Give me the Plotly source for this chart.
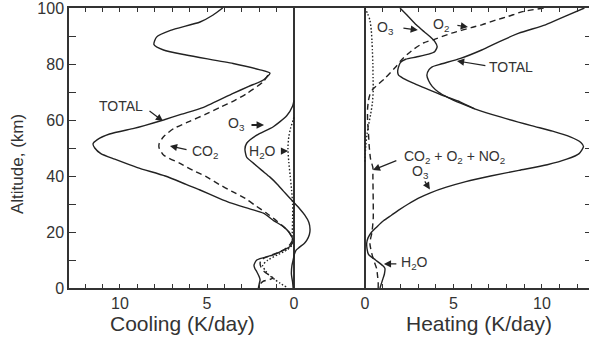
import plotly.graph_objects as go

# ---------------- data (altitude km, rate K/day) ----------------
alt_cool_total = [100, 97.5, 95, 92, 89.6, 87, 85, 83.2, 80.2, 78, 76.7, 74.3, 72, 69.5, 64.5, 62, 60, 58, 57, 55, 53, 51.5, 50, 48, 46, 43, 40, 37, 35, 32, 30.5, 28, 26.7, 24, 22, 20, 18.3, 17, 16, 14.8, 13.5, 11.8, 10, 8.2, 7, 5.8, 4, 2.9, 1.5, 0]
cool_total = [4.1, 4.65, 5.4, 7.1, 7.9, 8.05, 7.5, 6.2, 3.5, 2.0, 1.38, 1.76, 2.6, 3.5, 5.2, 6.5, 7.5, 8.6, 9.2, 10.6, 11.3, 11.55, 11.45, 11.1, 10.3, 9.0, 7.4, 6.2, 5.4, 4.3, 3.7, 2.4, 1.76, 1.15, 0.63, 0.3, 0.13, 0.05, 0.1, 0.23, 0.6, 1.19, 2.14, 2.3, 2.25, 2.14, 2.0, 1.95, 2.0, 2.05]

alt_cool_co2 = [76, 73.7, 69.5, 67, 64.5, 62, 59.5, 57, 54, 51.5, 50, 47.5, 44.5, 42, 39.6, 37, 34.6, 32, 29.8, 26.7, 24.5, 22.5, 20.5, 19, 17, 15, 14, 13, 12, 11, 10, 8.8, 7.5, 5.8, 4.5, 3.5, 2.3, 1, 0]
cool_co2 = [1.5, 1.76, 2.7, 3.4, 4.25, 5.1, 6.0, 6.9, 7.5, 7.75, 7.75, 7.5, 6.55, 5.8, 5.0, 4.3, 3.6, 2.8, 2.3, 1.57, 1.1, 0.71, 0.35, 0.2, 0.1, 0.3, 0.5, 0.8, 1.2, 1.6, 1.9, 1.95, 1.9, 1.7, 1.4, 1.2, 1.8, 2.0, 2.0]

alt_cool_h2o = [61, 60, 57, 54, 50, 45, 40, 35, 30, 25, 20, 17, 15, 13.6, 12, 10, 8, 5, 3, 1.7, 0.3]
cool_h2o = [0.0, 0.05, 0.2, 0.3, 0.35, 0.3, 0.22, 0.14, 0.08, 0.08, 0.1, 0.1, 0.15, 0.4, 0.9, 1.5, 1.8, 1.5, 1.1, 0.8, 0.42]

alt_cool_o3 = [67, 65, 61.5, 57.6, 54.6, 51.7, 49.6, 46.7, 44.6, 42, 39.6, 37, 34.6, 32.5, 30.7, 28.5, 26, 23.5, 21, 19, 17, 16, 14.5, 13.5, 12, 10, 8, 5, 2, 0]
cool_o3 = [0.0, 0.08, 0.42, 1.19, 2.14, 2.72, 2.82, 2.72, 2.34, 1.85, 1.38, 0.95, 0.61, 0.3, 0.03, -0.3, -0.62, -0.85, -0.92, -0.88, -0.73, -0.6, -0.3, -0.12, -0.02, 0.05, 0.12, 0.15, 0.08, 0.05]

alt_heat_total = [100, 97, 94, 91, 88, 85, 82, 80, 79, 78, 76, 74, 72, 70, 68, 66, 64, 61, 58, 56, 54, 52, 50.5, 48, 46, 44, 42, 40, 38, 36, 34, 32, 30, 28, 26, 24, 22, 20, 18, 16, 14, 12, 10, 8, 7, 5, 3, 1, 0]
heat_total = [12.4, 11.3, 10.2, 8.7, 7.6, 6.6, 5.4, 4.3, 3.8, 3.62, 3.5, 3.6, 3.8, 4.15, 4.7, 5.4, 6.2, 7.7, 9.4, 10.6, 11.6, 12.2, 12.35, 12.1, 11.4, 10.3, 8.7, 7.1, 5.7, 4.6, 3.7, 3.0, 2.45, 1.95, 1.5, 1.05, 0.7, 0.38, 0.18, 0.1, 0.12, 0.2, 0.6, 1.0, 1.13, 1.1, 1.0, 0.9, 0.85]

alt_heat_o3 = [100, 97, 94, 91.5, 89.8, 88, 86.2, 84.5, 83.5, 82.5, 81.7, 80.5, 78.5, 77.2, 76, 74.9, 73, 70.7, 68.5, 66.5, 64]
heat_o3 = [1.98, 2.45, 2.9, 3.35, 3.67, 3.95, 4.08, 3.95, 3.6, 2.9, 2.3, 2.0, 1.88, 1.85, 1.9, 2.16, 2.8, 3.67, 4.5, 5.37, 6.2]

alt_heat_o2 = [100, 98.7, 97, 95.7, 94, 93, 91, 89, 87.5, 85.5, 83.5, 81, 79, 77, 75, 73, 71, 69, 67, 64, 60, 55, 50, 46, 43, 40, 35, 30, 25, 20, 16, 12, 9, 7, 4, 2, 0]
heat_o2 = [10.1, 8.9, 8.1, 7.4, 6.6, 6.0, 4.9, 4.0, 3.3, 2.8, 2.4, 2.0, 1.75, 1.45, 1.15, 0.8, 0.45, 0.28, 0.2, 0.15, 0.15, 0.2, 0.25, 0.32, 0.45, 0.45, 0.46, 0.47, 0.47, 0.4, 0.28, 0.4, 0.55, 0.66, 0.72, 0.75, 0.75]

alt_heat_h2o = [100, 98, 95.7, 92, 88, 85, 80, 75, 70.7, 66, 62, 58, 55, 51, 48, 45]
heat_h2o = [0.0, 0.15, 0.28, 0.36, 0.4, 0.42, 0.45, 0.46, 0.47, 0.42, 0.32, 0.2, 0.12, 0.05, 0.02, 0.0]

cool_ticks = list(range(0, 13))
heat_ticks = list(range(0, 13))
cool_ticktext = [str(v) if v % 5 == 0 else "" for v in cool_ticks]
heat_ticktext = [str(v) if v % 5 == 0 else "" for v in heat_ticks]
alt_ticks = list(range(0, 101, 10))
alt_ticktext = [str(v) if v % 20 == 0 else "" for v in alt_ticks]

COOL_RANGE = [12.93, -2.01]
HEAT_RANGE = [-2.03, 12.66]

# ---------------- figure ----------------
INK = "#222222"
TXT = "#333333"
AX = "#333333"
FONT = "Liberation Sans, Arial, sans-serif"
W = 1.4

fig = go.Figure()

def add(x, y, dash, xa):
    fig.add_trace(go.Scatter(
        x=x, y=y, mode="lines", xaxis=xa, yaxis="y",
        line=dict(color=INK, width=W, dash=dash, shape="spline", smoothing=0.6),
        showlegend=False, hoverinfo="skip"))

add(cool_total, alt_cool_total, "solid", "x")
add(cool_co2, alt_cool_co2, "6px,4px", "x")
add(cool_h2o, alt_cool_h2o, "1.5px,2px", "x")
add(cool_o3, alt_cool_o3, "solid", "x")
add(heat_total, alt_heat_total, "solid", "x2")
add(heat_o3, alt_heat_o3, "solid", "x2")
add(heat_o2, alt_heat_o2, "6px,4px", "x2")
add(heat_h2o, alt_heat_h2o, "1.5px,2px", "x2")

# empty traces so that the frame axes (top and right) get drawn
for xa, ya in (("x3", "y"), ("x4", "y"), ("x2", "y2")):
    fig.add_trace(go.Scatter(x=[None], y=[None], mode="lines", xaxis=xa, yaxis=ya,
                             showlegend=False, hoverinfo="skip"))

xcommon = dict(
    showline=True, linecolor=AX, linewidth=1.5,
    ticks="inside", ticklen=4, tickwidth=1.2, tickcolor=AX,
    showgrid=False, tickmode="array",
    tickfont=dict(family=FONT, size=16, color=TXT))

topcommon = dict(
    showline=True, linecolor=AX, linewidth=1.5, side="top", anchor="y",
    ticks="inside", ticklen=4, tickwidth=1.2, tickcolor=AX,
    showgrid=False, zeroline=False, showticklabels=False, tickmode="array")

fig.update_layout(
    width=589, height=337,
    margin=dict(l=69, r=0, t=8, b=49),
    paper_bgcolor="white", plot_bgcolor="white",
    font=dict(family=FONT, color=TXT),
    xaxis=dict(domain=[0, 0.5], range=COOL_RANGE, tickvals=cool_ticks,
               ticktext=cool_ticktext, anchor="y",
               zeroline=True, zerolinecolor=AX, zerolinewidth=1.5, **xcommon),
    xaxis2=dict(domain=[0.5, 1], range=HEAT_RANGE, tickvals=heat_ticks,
                ticktext=heat_ticktext, anchor="y",
                zeroline=True, zerolinecolor=AX, zerolinewidth=1.5, **xcommon),
    xaxis3=dict(overlaying="x", range=COOL_RANGE, tickvals=cool_ticks, **topcommon),
    xaxis4=dict(overlaying="x2", range=HEAT_RANGE, tickvals=heat_ticks, **topcommon),
    yaxis=dict(range=[0, 100], tickmode="array", tickvals=alt_ticks, ticktext=alt_ticktext,
               ticks="inside", ticklen=7, tickwidth=1.2, tickcolor=AX,
               showline=True, linecolor=AX, linewidth=1.5, showgrid=False,
               zeroline=False, ticklabeloverflow="allow",
               tickfont=dict(family=FONT, size=16, color=TXT), anchor="x"),
    yaxis2=dict(range=[0, 100], overlaying="y", anchor="x2", side="right",
                tickmode="array", tickvals=alt_ticks, ticks="inside", ticklen=4,
                tickwidth=1.2, tickcolor=AX, showline=False,
                showticklabels=False, showgrid=False, zeroline=False),
)

ann = []
def label(text, x, y, xref, size=14):
    ann.append(dict(text=text, x=x, y=y, xref=xref, yref="y", showarrow=False,
                    font=dict(family=FONT, size=size, color=TXT),
                    xanchor="center", yanchor="middle"))

def arrow(xt, yt, xh, yh, xref, w=1.2, s=1.2):
    ann.append(dict(text="", x=xh, y=yh, ax=xt, ay=yt, xref=xref, yref="y",
                    axref=xref, ayref="y", showarrow=True, arrowhead=2,
                    arrowsize=s, arrowwidth=w, arrowcolor=INK))

# cooling labels
label("TOTAL", 9.94, 65.0, "x")
arrow(8.39, 63.6, 7.53, 59.6, "x")
label("CO<sub>2</sub>", 5.1, 48.6, "x")
arrow(6.09, 49.3, 7.13, 50.7, "x")
label("O<sub>3</sub>", 3.33, 58.6, "x")
arrow(2.53, 58.2, 1.72, 58.2, "x", w=2, s=0.75)
label("H<sub>2</sub>O", 1.8, 48.6, "x")
arrow(0.8, 48.9, 0.34, 48.9, "x")

# heating labels
label("O<sub>3</sub>", 1.19, 92.9, "x2")
arrow(2.09, 92.9, 2.99, 92.1, "x2")
label("O<sub>2</sub>", 4.29, 93.9, "x2")
arrow(5.14, 93.9, 5.82, 93.2, "x2")
label("TOTAL", 8.25, 78.9, "x2")
arrow(6.89, 79.3, 5.2, 81.1, "x2")
label("CO<sub>2</sub> + O<sub>2</sub> + NO<sub>2</sub>", 5.08, 46.8, "x2")
arrow(1.86, 45.7, 0.45, 42.1, "x2")
label("O<sub>3</sub>", 3.16, 41.5, "x2")
arrow(3.33, 38.6, 3.67, 35.2, "x2")
label("H<sub>2</sub>O", 2.82, 8.9, "x2")
arrow(1.86, 8.6, 1.07, 8.6, "x2")

# axis titles
ann.append(dict(text="Cooling (K/day)", x=6.4, y=-0.126, xref="x", yref="paper",
                showarrow=False, font=dict(family=FONT, size=21, color=TXT),
                xanchor="center", yanchor="middle"))
ann.append(dict(text="Heating (K/day)", x=6.44, y=-0.126, xref="x2", yref="paper",
                showarrow=False, font=dict(family=FONT, size=21, color=TXT),
                xanchor="center", yanchor="middle"))
ann.append(dict(text="Altitude, (km)", x=-0.098, y=44.3, xref="paper", yref="y",
                showarrow=False, textangle=-90, font=dict(family=FONT, size=17, color=TXT),
                xanchor="center", yanchor="middle"))

fig.update_layout(annotations=ann)
fig.write_html("out.html", config={"displayModeBar": False},
               post_script="document.body.style.margin='0';document.body.style.overflow='hidden';")
